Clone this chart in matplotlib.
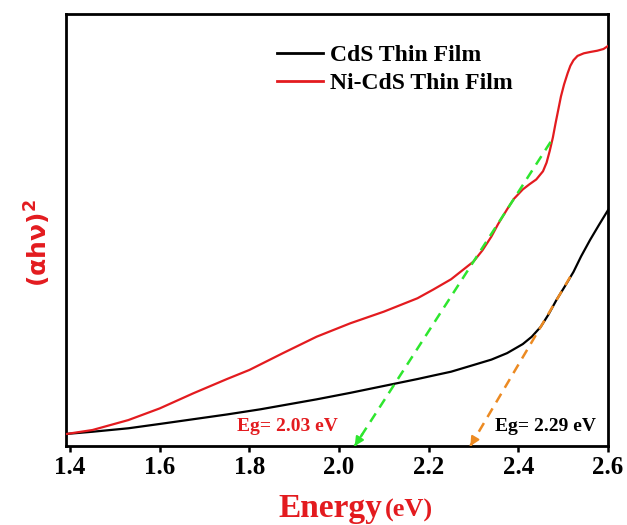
import matplotlib
matplotlib.use("Agg")
import matplotlib.pyplot as plt

# ---- data ----
energy_cds = [1.393, 1.45, 1.53, 1.60, 1.675, 1.75, 1.825, 1.95, 2.025, 2.10,
              2.175, 2.21, 2.25, 2.30, 2.34, 2.375, 2.41, 2.43, 2.45, 2.467,
              2.485, 2.504, 2.523, 2.54, 2.56, 2.58, 2.6]
ahv2_cds = [2.8, 3.3, 4.1, 5.1, 6.2, 7.3, 8.5, 10.8, 12.3, 13.9,
            15.5, 16.3, 17.2, 18.75, 20.0, 21.5, 23.6, 25.3, 27.6, 30.4,
            33.8, 37.0, 40.3, 43.9, 47.7, 51.2, 54.6]

energy_ni = [1.393, 1.45, 1.53, 1.60, 1.675, 1.75, 1.80, 1.875, 1.95, 2.025,
             2.10, 2.175, 2.21, 2.25, 2.30, 2.32, 2.34, 2.355, 2.375, 2.39,
             2.41, 2.425, 2.44, 2.455, 2.463, 2.47, 2.477, 2.483, 2.489, 2.495,
             2.502, 2.51, 2.516, 2.523, 2.532, 2.546, 2.56, 2.576, 2.59, 2.6]
ahv2_ni = [2.8, 3.7, 6.0, 8.7, 12.2, 15.5, 17.6, 21.5, 25.3, 28.4,
           31.1, 34.2, 36.2, 38.6, 42.7, 45.3, 48.5, 51.4, 54.8, 57.2,
           59.4, 60.6, 61.7, 63.6, 65.6, 68.3, 71.4, 74.7, 77.8, 80.9,
           83.7, 86.3, 88.0, 89.3, 90.3, 90.9, 91.2, 91.5, 91.9, 92.6]

# tangent (extrapolation) lines: (energy, value) end points
tangent_ni_E = [2.472, 2.035]
tangent_ni_v = [70.4, 0.0]
tangent_cds_E = [2.516, 2.293]
tangent_cds_v = [39.2, 0.0]

xticks = [1.4, 1.6, 1.8, 2.0, 2.2, 2.4, 2.6]
xticklabels = ["1.4", "1.6", "1.8", "2.0", "2.2", "2.4", "2.6"]
labels = ["CdS Thin Film", "Ni-CdS Thin Film"]

RED = "#e31b1f"
GREEN = "#2ee62e"
ORANGE = "#ec8a22"
SERIF = "Liberation Serif"

plt.rcParams["mathtext.fontset"] = "dejavusans"

fig = plt.figure(figsize=(6.27, 5.25), dpi=100)
ax = fig.add_axes([66 / 627, 79 / 525, 542 / 627, 432 / 525])

ax.plot(energy_cds, ahv2_cds, color="black", lw=1.6, label=labels[0], zorder=3,
        solid_joinstyle="round")
ax.plot(energy_ni, ahv2_ni, color=RED, lw=1.6, label=labels[1], zorder=3,
        solid_joinstyle="round")

for E, v, c in [(tangent_ni_E, tangent_ni_v, GREEN), (tangent_cds_E, tangent_cds_v, ORANGE)]:
    ax.plot(E, v, color=c, lw=1.8, dashes=(4, 2.8), zorder=4)
    # arrow head at the band-gap intercept
    frac = 0.04
    ax.annotate("", xy=(E[1], v[1]),
                xytext=(E[1] + frac * (E[0] - E[1]), v[1] + frac * (v[0] - v[1])),
                arrowprops=dict(arrowstyle="-|>", color=c, lw=1.5, mutation_scale=13,
                                shrinkA=0, shrinkB=0), zorder=5)

ax.text(1.884, 4.6, "Eg= 2.03 eV", color=RED, fontsize=14, fontweight="bold",
        family=SERIF, ha="center", va="center")
ax.text(2.46, 4.5, "Eg= 2.29 eV", color="black", fontsize=14, fontweight="bold",
        family=SERIF, ha="center", va="center")

ax.set_xlim(1.391, 2.6)
ax.set_ylim(0, 100)
ax.set_xticks(xticks)
ax.set_xticklabels(xticklabels, family=SERIF, fontweight="bold", fontsize=18)
ax.set_yticks([])
ax.tick_params(axis="x", direction="out", length=4.5, width=1.8, pad=3,
               top=False)
for s in ax.spines.values():
    s.set_linewidth(2)

leg = ax.legend(loc="upper left", bbox_to_anchor=(0.389, 0.93), frameon=False,
                borderpad=0, borderaxespad=0, handlelength=1.95, handletextpad=0.3,
                labelspacing=0.3, prop=dict(family=SERIF, weight="bold", size=17))
for line in leg.get_lines():
    line.set_linewidth(2)

# axis labels
fig.text(278 / 627, 8 / 525, "Energy", color=RED, fontsize=24, fontweight="bold",
         family=SERIF, ha="left", va="baseline")
fig.text(385 / 627, 8 / 525, "(eV)", color=RED, fontsize=19, fontweight="bold",
         family=SERIF, ha="left", va="baseline")
fig.text(38 / 627, (525 - 243) / 525, r"(αhν)$^{\mathbf{2}}$", color=RED, fontsize=18,
         fontweight="bold", family="DejaVu Sans", rotation=90, ha="center", va="center")

fig.savefig("out.png", dpi=100)
